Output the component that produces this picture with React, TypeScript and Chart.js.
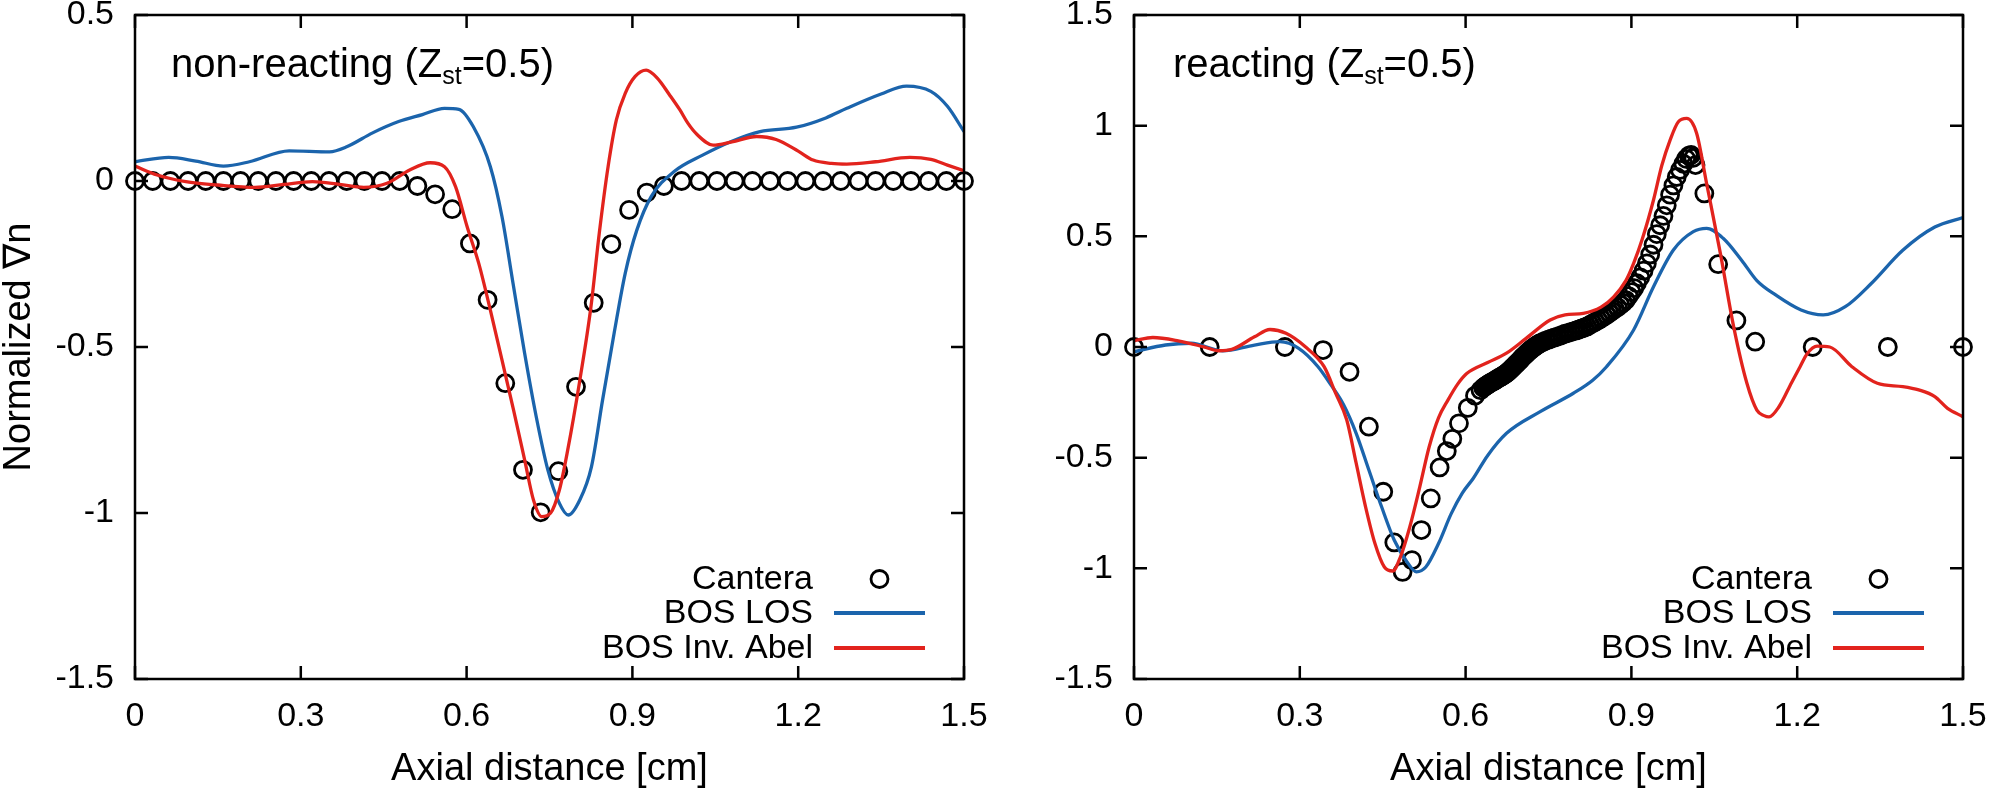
import React, { useEffect, useRef } from 'react';
import { Chart, registerables } from 'chart.js';

Chart.register(...registerables);

const FONT = "'Liberation Sans', Arial, Helvetica, sans-serif";
const BLUE = '#1b64ac';
const RED = '#e2231d';

type Pt = [number, number];

// ---------- axes ----------
const X_TICKS = [0, 0.3, 0.6, 0.9, 1.2, 1.5];
const X_TICK_LABELS = ['0', '0.3', '0.6', '0.9', '1.2', '1.5'];
const NR_Y_TICKS = [-1.5, -1, -0.5, 0, 0.5];
const NR_Y_TICK_LABELS = ['-1.5', '-1', '-0.5', '0', '0.5'];
const R_Y_TICKS = [-1.5, -1, -0.5, 0, 0.5, 1, 1.5];
const R_Y_TICK_LABELS = ['-1.5', '-1', '-0.5', '0', '0.5', '1', '1.5'];

const X_TITLE = 'Axial distance [cm]';
const Y_TITLE = 'Normalized ∇n';
const SERIES_NAMES = ['Cantera', 'BOS LOS', 'BOS Inv. Abel'];

// ---------- non-reacting panel ----------
const NR_CANTERA: Pt[] = [
  [0, 0], [0.032, 0], [0.064, 0], [0.096, 0], [0.128, 0], [0.16, 0], [0.191, 0], [0.223, 0],
  [0.255, 0], [0.287, 0], [0.319, 0], [0.351, 0], [0.383, 0], [0.415, 0], [0.447, 0], [0.479, 0],
  [0.511, -0.015], [0.543, -0.04], [0.574, -0.085], [0.606, -0.188], [0.638, -0.358], [0.67, -0.609],
  [0.702, -0.87], [0.734, -0.998], [0.766, -0.874], [0.798, -0.62], [0.83, -0.367], [0.862, -0.19],
  [0.894, -0.087], [0.926, -0.035], [0.957, -0.015], [0.989, 0], [1.021, 0], [1.053, 0], [1.085, 0],
  [1.117, 0], [1.149, 0], [1.181, 0], [1.213, 0], [1.245, 0], [1.277, 0], [1.309, 0], [1.34, 0],
  [1.372, 0], [1.404, 0], [1.436, 0], [1.468, 0], [1.5, 0],
];

const NR_LOS: Pt[] = [
  [0, 0.058], [0.061, 0.071], [0.11, 0.06], [0.16, 0.045], [0.207, 0.058], [0.279, 0.091],
  [0.352, 0.088], [0.383, 0.103], [0.43, 0.145], [0.477, 0.179], [0.52, 0.2], [0.56, 0.219],
  [0.586, 0.216], [0.612, 0.164], [0.643, 0.043], [0.664, -0.107], [0.684, -0.308], [0.705, -0.519],
  [0.726, -0.71], [0.747, -0.87], [0.768, -0.971], [0.784, -1.006], [0.805, -0.96], [0.826, -0.86],
  [0.846, -0.66], [0.867, -0.458], [0.887, -0.278], [0.908, -0.148], [0.934, -0.047], [0.975, 0.028],
  [1.027, 0.078], [1.08, 0.12], [1.131, 0.149], [1.197, 0.162], [1.25, 0.19], [1.288, 0.219],
  [1.35, 0.262], [1.396, 0.286], [1.44, 0.27], [1.47, 0.225], [1.5, 0.149],
];

const NR_ABEL: Pt[] = [
  [0, 0.045], [0.04, 0.018], [0.092, -0.002], [0.15, -0.012], [0.217, -0.019], [0.27, -0.01],
  [0.321, -0.002], [0.37, -0.01], [0.414, -0.019], [0.456, -0.007], [0.497, 0.033], [0.534, 0.055],
  [0.56, 0.043], [0.58, -0.017], [0.601, -0.138], [0.622, -0.248], [0.643, -0.389], [0.664, -0.539],
  [0.685, -0.69], [0.705, -0.84], [0.721, -0.961], [0.736, -1.011], [0.752, -1.0], [0.768, -0.93],
  [0.783, -0.81], [0.804, -0.609], [0.825, -0.379], [0.84, -0.158], [0.856, 0.043], [0.871, 0.184],
  [0.887, 0.264], [0.905, 0.315], [0.925, 0.334], [0.945, 0.31], [0.967, 0.26], [0.986, 0.214],
  [1.0, 0.175], [1.017, 0.14], [1.046, 0.108], [1.08, 0.118], [1.125, 0.134], [1.16, 0.125],
  [1.2, 0.09], [1.227, 0.063], [1.26, 0.053], [1.288, 0.051], [1.34, 0.058], [1.402, 0.071],
  [1.44, 0.065], [1.47, 0.048], [1.5, 0.031],
];

// ---------- reacting panel ----------
const R_CANTERA: Pt[] = [
  [0, 0], [0.137, 0], [0.273, 0], [0.342, -0.014], [0.39, -0.112], [0.425, -0.36], [0.451, -0.654],
  [0.471, -0.883], [0.486, -1.016], [0.503, -0.963], [0.52, -0.827], [0.537, -0.684], [0.553, -0.544],
  [0.566, -0.47], [0.576, -0.415], [0.588, -0.345], [0.604, -0.275], [0.617, -0.22], [0.627, -0.195],
  [0.632, -0.184], [0.635, -0.178], [0.6375, -0.174], [0.64, -0.17], [0.6425, -0.166], [0.645, -0.162],
  [0.6475, -0.159], [0.65, -0.155], [0.6525, -0.152], [0.655, -0.148], [0.6575, -0.144], [0.66, -0.14],
  [0.6625, -0.137], [0.665, -0.133], [0.6675, -0.129], [0.67, -0.125], [0.6725, -0.121], [0.675, -0.116],
  [0.6775, -0.111], [0.68, -0.105], [0.6825, -0.099], [0.685, -0.093], [0.6875, -0.087], [0.69, -0.08],
  [0.6925, -0.074], [0.695, -0.068], [0.6975, -0.062], [0.7, -0.055], [0.7025, -0.048], [0.705, -0.042],
  [0.7075, -0.036], [0.71, -0.03], [0.7125, -0.024], [0.715, -0.018], [0.7175, -0.013], [0.72, -0.008],
  [0.7225, -0.003], [0.725, 0.001], [0.7275, 0.006], [0.73, 0.01], [0.7325, 0.014], [0.735, 0.017],
  [0.74, 0.023], [0.745, 0.029], [0.75, 0.033], [0.755, 0.038], [0.76, 0.042], [0.765, 0.046],
  [0.77, 0.05], [0.775, 0.055], [0.78, 0.06], [0.785, 0.063], [0.79, 0.067], [0.795, 0.071],
  [0.8, 0.075], [0.805, 0.079], [0.81, 0.084], [0.815, 0.088], [0.82, 0.093], [0.825, 0.1],
  [0.83, 0.107], [0.835, 0.114], [0.84, 0.121], [0.845, 0.129], [0.85, 0.137], [0.855, 0.145],
  [0.86, 0.154], [0.865, 0.163], [0.87, 0.172], [0.875, 0.18], [0.88, 0.19], [0.885, 0.2],
  [0.89, 0.212], [0.895, 0.23], [0.9, 0.248], [0.905, 0.266], [0.91, 0.288], [0.916, 0.315],
  [0.922, 0.345], [0.928, 0.378], [0.934, 0.418], [0.94, 0.462], [0.946, 0.51], [0.952, 0.55],
  [0.958, 0.592], [0.964, 0.64], [0.97, 0.688], [0.976, 0.73], [0.982, 0.768], [0.988, 0.8],
  [0.994, 0.828], [0.999, 0.85], [1.004, 0.864], [1.008, 0.868], [1.012, 0.855], [1.016, 0.822],
  [1.032, 0.694], [1.057, 0.374], [1.09, 0.12], [1.124, 0.024], [1.228, 0], [1.364, 0], [1.5, 0],
];

const R_LOS: Pt[] = [
  [0, -0.021], [0.057, 0.009], [0.103, 0.017], [0.16, -0.017], [0.218, 0.009], [0.264, 0.024],
  [0.298, -0.006], [0.333, -0.089], [0.356, -0.17], [0.379, -0.26], [0.402, -0.39], [0.425, -0.556],
  [0.448, -0.722], [0.471, -0.873], [0.494, -0.971], [0.511, -1.016], [0.528, -0.994], [0.551, -0.888],
  [0.574, -0.753], [0.594, -0.66], [0.614, -0.593], [0.64, -0.49], [0.674, -0.39], [0.735, -0.292],
  [0.795, -0.209], [0.83, -0.15], [0.855, -0.089], [0.904, 0.077], [0.94, 0.272], [0.976, 0.438],
  [1.012, 0.521], [1.036, 0.536], [1.066, 0.491], [1.1, 0.39], [1.127, 0.3], [1.161, 0.235],
  [1.207, 0.167], [1.247, 0.145], [1.287, 0.182], [1.334, 0.287], [1.391, 0.437], [1.449, 0.542],
  [1.5, 0.585],
];

const R_ABEL: Pt[] = [
  [0, 0.028], [0.034, 0.043], [0.08, 0.028], [0.126, 0.001], [0.154, -0.017], [0.177, -0.011],
  [0.218, 0.046], [0.246, 0.079], [0.275, 0.062], [0.31, 0.001], [0.344, -0.089], [0.365, -0.21],
  [0.385, -0.33], [0.402, -0.525], [0.419, -0.722], [0.436, -0.888], [0.453, -0.994], [0.468, -1.012],
  [0.482, -0.949], [0.499, -0.813], [0.517, -0.633], [0.534, -0.452], [0.551, -0.32], [0.568, -0.24],
  [0.585, -0.17], [0.602, -0.12], [0.64, -0.07], [0.674, -0.028], [0.71, 0.04], [0.753, 0.122],
  [0.78, 0.145], [0.813, 0.152], [0.845, 0.18], [0.868, 0.227], [0.89, 0.3], [0.904, 0.378],
  [0.92, 0.49], [0.94, 0.664], [0.955, 0.82], [0.97, 0.935], [0.985, 1.018], [1.0, 1.033],
  [1.018, 0.966], [1.036, 0.74], [1.061, 0.423], [1.085, 0.092], [1.109, -0.164], [1.127, -0.285],
  [1.14, -0.31], [1.149, -0.316], [1.167, -0.27], [1.19, -0.16], [1.205, -0.09], [1.218, -0.03],
  [1.236, 0.004], [1.259, 0.0], [1.299, -0.089], [1.345, -0.164], [1.391, -0.179], [1.42, -0.194],
  [1.449, -0.224], [1.472, -0.277], [1.5, -0.315],
];

interface PanelCfg {
  key: string;
  left: number;
  width: number;
  yMin: number;
  yMax: number;
  yTicks: number[];
  yTickLabels: string[];
  yAxisWidth: number;
  showYTitle: boolean;
  notePre: string;
  noteSub: string;
  notePost: string;
  noteDx: number;
  cantera: Pt[];
  los: Pt[];
  abel: Pt[];
}

const PANELS: PanelCfg[] = [
  {
    key: 'nr', left: 0, width: 998, yMin: -1.5, yMax: 0.5,
    yTicks: NR_Y_TICKS, yTickLabels: NR_Y_TICK_LABELS, yAxisWidth: 135, showYTitle: true,
    notePre: 'non-reacting (Z', noteSub: 'st', notePost: '=0.5)', noteDx: 36,
    cantera: NR_CANTERA, los: NR_LOS, abel: NR_ABEL,
  },
  {
    key: 'r', left: 998, width: 999, yMin: -1.5, yMax: 1.5,
    yTicks: R_Y_TICKS, yTickLabels: R_Y_TICK_LABELS, yAxisWidth: 136, showYTitle: false,
    notePre: 'reacting (Z', noteSub: 'st', notePost: '=0.5)', noteDx: 39,
    cantera: R_CANTERA, los: R_LOS, abel: R_ABEL,
  },
];

const HEIGHT = 792;
const TICK_LEN = 13;
const CIRCLE_R = 8.5;
const LINE_W = 3.3;

const toXY = (arr: Pt[]) => arr.map(([x, y]) => ({ x, y }));

function makeChart(canvas: HTMLCanvasElement, p: PanelCfg): Chart {
  const framePlugin = {
    id: 'frame_' + p.key,
    afterDatasetsDraw(chart: any) {
      const { ctx, chartArea: a, scales } = chart;
      const xs = scales.x;
      const ys = scales.y;
      ctx.save();
      // frame
      ctx.strokeStyle = '#000';
      ctx.lineWidth = 2.5;
      ctx.strokeRect(a.left, a.top, a.right - a.left, a.bottom - a.top);
      // inward ticks (mirrored)
      ctx.beginPath();
      for (const v of X_TICKS) {
        const px = xs.getPixelForValue(v);
        ctx.moveTo(px, a.bottom);
        ctx.lineTo(px, a.bottom - TICK_LEN);
        ctx.moveTo(px, a.top);
        ctx.lineTo(px, a.top + TICK_LEN);
      }
      for (const v of p.yTicks) {
        const py = ys.getPixelForValue(v);
        ctx.moveTo(a.left, py);
        ctx.lineTo(a.left + TICK_LEN, py);
        ctx.moveTo(a.right, py);
        ctx.lineTo(a.right - TICK_LEN, py);
      }
      ctx.stroke();

      // annotation with subscript
      ctx.fillStyle = '#000';
      ctx.textAlign = 'left';
      ctx.textBaseline = 'alphabetic';
      let x = a.left + p.noteDx;
      const base = 77;
      ctx.font = `40px ${FONT}`;
      ctx.fillText(p.notePre, x, base);
      x += ctx.measureText(p.notePre).width;
      ctx.font = `25px ${FONT}`;
      ctx.fillText(p.noteSub, x, base + 7);
      x += ctx.measureText(p.noteSub).width;
      ctx.font = `40px ${FONT}`;
      ctx.fillText(p.notePost, x, base);

      // legend (gnuplot style: text right-aligned, sample to the right)
      const rows = [580, 614, 649];
      const textRight = a.right - 151;
      const sL = a.right - 130;
      const sR = a.right - 39;
      ctx.font = `34px ${FONT}`;
      ctx.textAlign = 'right';
      ctx.textBaseline = 'middle';
      const dsets = chart.data.datasets;
      const byName = (n: string) => dsets.find((d: any) => d.label === n);
      SERIES_NAMES.forEach((name, i) => {
        const d = byName(name);
        ctx.fillStyle = '#000';
        ctx.fillText(name, textRight, rows[i]);
        if (i === 0) {
          ctx.beginPath();
          ctx.lineWidth = 2.8;
          ctx.strokeStyle = '#000';
          ctx.arc((sL + sR) / 2, rows[i] - 1, CIRCLE_R, 0, Math.PI * 2);
          ctx.stroke();
        } else {
          ctx.beginPath();
          ctx.lineWidth = 3.8;
          ctx.strokeStyle = d.borderColor;
          ctx.moveTo(sL, rows[i] - 1);
          ctx.lineTo(sR, rows[i] - 1);
          ctx.stroke();
        }
      });
      ctx.restore();
    },
  };

  return new Chart(canvas, {
    type: 'scatter',
    data: {
      datasets: [
        {
          label: 'BOS Inv. Abel', data: toXY(p.abel), showLine: true, borderColor: RED,
          backgroundColor: RED, borderWidth: LINE_W, pointRadius: 0, pointHoverRadius: 0,
          cubicInterpolationMode: 'monotone', order: 0,
        },
        {
          label: 'BOS LOS', data: toXY(p.los), showLine: true, borderColor: BLUE,
          backgroundColor: BLUE, borderWidth: LINE_W, pointRadius: 0, pointHoverRadius: 0,
          cubicInterpolationMode: 'monotone', order: 1,
        },
        {
          label: 'Cantera', data: toXY(p.cantera), showLine: false, pointStyle: 'circle',
          pointRadius: CIRCLE_R, pointHoverRadius: CIRCLE_R, pointBorderWidth: 2.8,
          pointBorderColor: '#000', pointBackgroundColor: 'rgba(0,0,0,0)',
          borderColor: '#000', backgroundColor: 'rgba(0,0,0,0)', order: 2, clip: false,
        },
      ] as any,
    },
    options: {
      animation: false,
      responsive: false,
      devicePixelRatio: 1,
      events: [],
      layout: { padding: { left: 0, right: 34, top: 15, bottom: 0 } },
      plugins: { legend: { display: false }, tooltip: { enabled: false } },
      scales: {
        x: {
          type: 'linear',
          min: 0,
          max: 1.5,
          grid: { display: false, drawTicks: false },
          border: { display: false },
          afterBuildTicks: (s: any) => { s.ticks = X_TICKS.map((v) => ({ value: v })); },
          afterFit: (s: any) => { s.height = HEIGHT - 679; s.paddingLeft = 0; s.paddingRight = 0; },
          ticks: {
            color: '#000',
            font: { family: FONT, size: 34 },
            padding: 17,
            maxRotation: 0,
            autoSkip: false,
            callback: (_v: any, i: number) => X_TICK_LABELS[i],
          },
          title: {
            display: true,
            text: X_TITLE,
            color: '#000',
            font: { family: FONT, size: 38 },
            padding: { top: 0, bottom: 0 },
          },
        },
        y: {
          type: 'linear',
          min: p.yMin,
          max: p.yMax,
          grid: { display: false, drawTicks: false },
          border: { display: false },
          afterBuildTicks: (s: any) => { s.ticks = p.yTicks.map((v) => ({ value: v })); },
          afterFit: (s: any) => { s.width = p.yAxisWidth; s.paddingTop = 0; s.paddingBottom = 0; },
          ticks: {
            color: '#000',
            font: { family: FONT, size: 34 },
            padding: 21,
            autoSkip: false,
            callback: (_v: any, i: number) => p.yTickLabels[i],
          },
          title: {
            display: p.showYTitle,
            text: Y_TITLE,
            color: '#000',
            font: { family: FONT, size: 38, lineHeight: 1 },
            padding: { top: 1, bottom: 0 },
          },
        },
      },
    } as any,
    plugins: [framePlugin],
  });
}

function Panel({ cfg }: { cfg: PanelCfg }) {
  const ref = useRef<HTMLCanvasElement | null>(null);
  useEffect(() => {
    if (!ref.current) return;
    const chart = makeChart(ref.current, cfg);
    return () => chart.destroy();
  }, [cfg]);
  return (
    <canvas
      ref={ref}
      width={cfg.width}
      height={HEIGHT}
      style={{ position: 'absolute', left: cfg.left, top: 0, width: cfg.width, height: HEIGHT }}
    />
  );
}

export default function App() {
  return (
    <div style={{ position: 'absolute', left: 0, top: 0, width: 1997, height: HEIGHT, background: '#fff', overflow: 'hidden' }}>
      {PANELS.map((p) => (
        <Panel key={p.key} cfg={p} />
      ))}
    </div>
  );
}
